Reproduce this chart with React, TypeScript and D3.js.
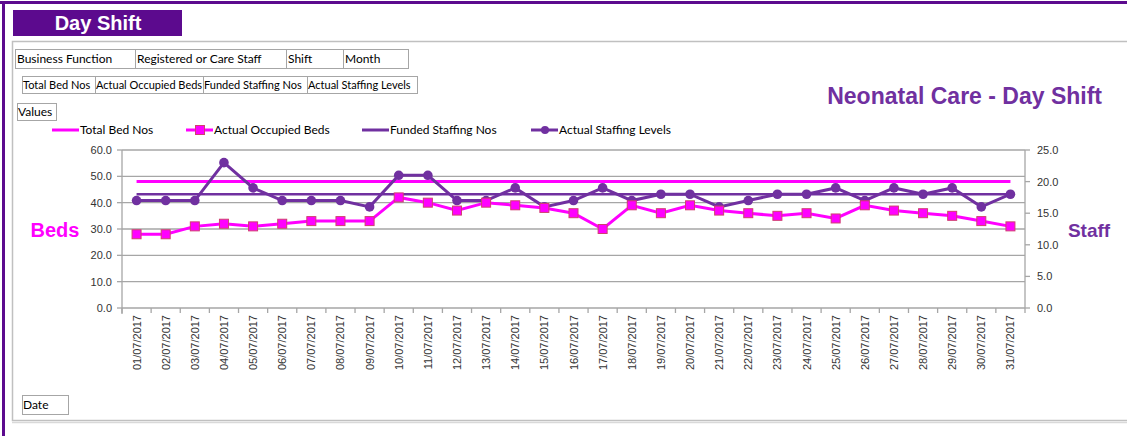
import React from 'react'
import * as d3 from 'd3'

const dates = d3.range(1, 32).map(d => `${String(d).padStart(2, '0')}/07/2017`)
const totalBedNos = dates.map(() => 48)
const actualOccupiedBeds = [28, 28, 31, 32, 31, 32, 33, 33, 33, 42, 40, 37, 40, 39, 38, 36, 30, 39, 36, 39, 37, 36, 35, 36, 34, 39, 37, 36, 35, 33, 31]
const fundedStaffingNos = dates.map(() => 18)
const actualStaffingLevels = [17, 17, 17, 23, 19, 17, 17, 17, 16, 21, 21, 17, 17, 19, 16, 17, 19, 17, 18, 18, 16, 17, 18, 18, 19, 17, 19, 18, 19, 16, 18]
const bedTicks = [0, 10, 20, 30, 40, 50, 60]
const staffTicks = [0, 5, 10, 15, 20, 25]
const filterRow1 = [['Business Function', 15, 135], ['Registered or Care Staff', 135, 286], ['Shift', 286, 343], ['Month', 343, 408]]
const filterRow2 = [['Total Bed Nos', 22, 95], ['Actual Occupied Beds', 95, 203], ['Funded Staffing Nos', 203, 307], ['Actual Staffing Levels', 307, 417]]

const PURPLE = '#7030a0'
const MAGENTA = '#ff00ff'
const DARK = '#5c0a8e'
const GRID = '#a6a6a6'

const App = () => {
    const left = 122
    const right = 1025
    const top = 150
    const bottom = 308

    const x = d3.scaleBand().domain(dates).range([left, right])
    const cx = (d: string) => (x(d) as number) + x.bandwidth() / 2
    const yBeds = d3.scaleLinear().domain([0, 60]).range([bottom, top])
    const yStaff = d3.scaleLinear().domain([0, 25]).range([bottom, top])

    const bedLine = d3.line<number>().x((_, i) => cx(dates[i])).y(d => yBeds(d))
    const staffLine = d3.line<number>().x((_, i) => cx(dates[i])).y(d => yStaff(d))

    const btnFont = 'Lato, "Open Sans", sans-serif'
    const axFont = '"Liberation Sans", Arial, sans-serif'

    const legend = [
        { label: 'Total Bed Nos', x: 52, color: MAGENTA, marker: null },
        { label: 'Actual Occupied Beds', x: 186, color: MAGENTA, marker: 'square' },
        { label: 'Funded Staffing Nos', x: 362, color: PURPLE, marker: null },
        { label: 'Actual Staffing Levels', x: 531, color: PURPLE, marker: 'circle' },
    ]

    return (
        <svg width={1127} height={436} style={{ position: 'absolute', left: 0, top: 0, background: '#fff' }}>
            {/* frame */}
            <rect x={0} y={1} width={1127} height={3} fill={DARK} />
            <rect x={2} y={1} width={3} height={435} fill={DARK} />
            <rect x={13} y={10} width={169} height={26} fill={DARK} />
            <text x={98} y={30} textAnchor="middle" fill="#fff" fontFamily={axFont} fontWeight="bold" fontSize={20}>Day Shift</text>

            {/* chart area */}
            <rect x={12.5} y={41.5} width={1130} height={379} fill="#fff" stroke="#c0c0c0" strokeWidth={1.5} />
            <line x1={12} x2={1127} y1={422.5} y2={422.5} stroke="#d9d9d9" strokeWidth={1.5} />

            {/* filter buttons */}
            {filterRow1.map(([t, a, b]) => (
                <g key={`r1${t}`}>
                    <rect x={(a as number) + 0.5} y={49.5} width={(b as number) - (a as number)} height={19} fill="#fff" stroke="#a6a6a6" />
                    <text x={(a as number) + 2} y={63} fontFamily={btnFont} fontSize={12} fill="#000">{t}</text>
                </g>
            ))}
            {filterRow2.map(([t, a, b]) => (
                <g key={`r2${t}`}>
                    <rect x={(a as number) + 0.5} y={76.5} width={(b as number) - (a as number)} height={17} fill="#fff" stroke="#a6a6a6" />
                    <text x={(a as number) + 1} y={89} fontFamily={btnFont} fontSize={11} fill="#000">{t}</text>
                </g>
            ))}
            <rect x={17.5} y={103.5} width={39} height={17} fill="#fff" stroke="#a6a6a6" />
            <text x={18} y={116} fontFamily={btnFont} fontSize={12} fill="#000">Values</text>
            <rect x={22.5} y={395.5} width={46} height={19} fill="#fff" stroke="#a6a6a6" />
            <text x={23} y={409} fontFamily={btnFont} fontSize={12} fill="#000">Date</text>

            {/* titles */}
            <text x={1102} y={104} textAnchor="end" fill={PURPLE} fontFamily={axFont} fontWeight="bold" fontSize={23}>Neonatal Care - Day Shift</text>
            <text x={55} y={237} textAnchor="middle" fill={MAGENTA} fontFamily={axFont} fontWeight="bold" fontSize={20}>Beds</text>
            <text x={1089} y={237} textAnchor="middle" fill={PURPLE} fontFamily={axFont} fontWeight="bold" fontSize={19}>Staff</text>

            {/* legend */}
            {legend.map(l => (
                <g key={l.label}>
                    <line x1={l.x} x2={l.x + 27} y1={130} y2={130} stroke={l.color} strokeWidth={3} />
                    {l.marker === 'square' && <rect x={l.x + 9.5} y={125.5} width={9} height={9} fill={MAGENTA} stroke="#d04070" />}
                    {l.marker === 'circle' && <circle cx={l.x + 14} cy={130} r={4} fill={PURPLE} />}
                    <text x={l.x + 28} y={134} fontFamily={btnFont} fontSize={12} fill="#000">{l.label}</text>
                </g>
            ))}

            {/* grid */}
            {bedTicks.map(t => (
                <line key={`g${t}`} x1={left} x2={right} y1={yBeds(t)} y2={yBeds(t)} stroke={GRID} strokeWidth={1.3} />
            ))}
            {/* left axis */}
            <line x1={left} x2={left} y1={top} y2={bottom + 6} stroke={GRID} strokeWidth={1.3} />
            {bedTicks.map(t => (
                <g key={`lt${t}`}>
                    <line x1={left - 5} x2={left} y1={yBeds(t)} y2={yBeds(t)} stroke={GRID} strokeWidth={1.3} />
                    <text x={left - 10} y={yBeds(t) + 4} textAnchor="end" fontFamily={axFont} fontSize={11} fill="#333">{t.toFixed(1)}</text>
                </g>
            ))}
            {/* right axis */}
            <line x1={right} x2={right} y1={top} y2={bottom} stroke={GRID} strokeWidth={1.3} />
            {staffTicks.map(t => (
                <g key={`rt${t}`}>
                    <line x1={right} x2={right + 5} y1={yStaff(t)} y2={yStaff(t)} stroke={GRID} strokeWidth={1.3} />
                    <text x={right + 12} y={yStaff(t) + 4} fontFamily={axFont} fontSize={11} fill="#333">{t.toFixed(1)}</text>
                </g>
            ))}
            {/* x axis ticks and labels */}
            {dates.map(d => (
                <g key={`x${d}`}>
                    <line x1={x(d)} x2={x(d)} y1={bottom} y2={bottom + 5} stroke={GRID} strokeWidth={1.3} />
                    <text transform={`translate(${cx(d) + 4},${bottom + 7}) rotate(-90)`} textAnchor="end" fontFamily={axFont} fontSize={11} fill="#333">{d}</text>
                </g>
            ))}
            <line x1={right} x2={right} y1={bottom} y2={bottom + 5} stroke={GRID} strokeWidth={1.3} />

            {/* series */}
            <path d={bedLine(totalBedNos) as string} fill="none" stroke={MAGENTA} strokeWidth={3} />
            <path d={staffLine(fundedStaffingNos) as string} fill="none" stroke={PURPLE} strokeWidth={2.5} />
            <path d={staffLine(actualStaffingLevels) as string} fill="none" stroke={PURPLE} strokeWidth={3} />
            {actualStaffingLevels.map((v, i) => (
                <circle key={`c${i}`} cx={cx(dates[i])} cy={yStaff(v)} r={4.8} fill={PURPLE} />
            ))}
            <path d={bedLine(actualOccupiedBeds) as string} fill="none" stroke={MAGENTA} strokeWidth={3} />
            {actualOccupiedBeds.map((v, i) => (
                <rect key={`s${i}`} x={cx(dates[i]) - 4.5} y={yBeds(v) - 4.5} width={9} height={9} fill={MAGENTA} stroke="#d04070" strokeWidth={1} />
            ))}
        </svg>
    )
}

export default App
